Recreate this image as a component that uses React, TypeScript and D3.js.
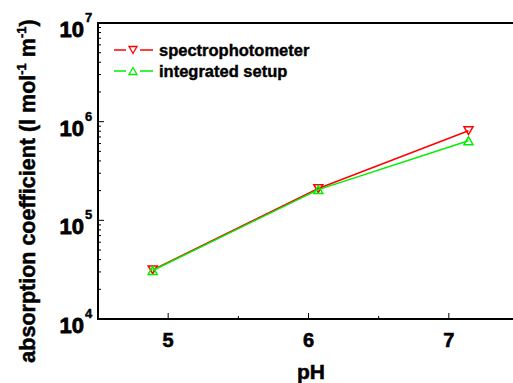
import React, { useRef, useEffect } from 'react';
import * as d3 from 'd3';

const phValues = [4.89, 6.07, 7.14];
const spectrophotometer = [3.15e4, 2.1e5, 8.1e5];
const integratedSetup = [3.1e4, 2.05e5, 6.4e5];
const xTicks = [5, 6, 7];
const yDecades = [4, 5, 6, 7];

const seriesList = [
  { name: 'spectrophotometer', values: spectrophotometer, color: '#ff0000', down: true },
  { name: 'integrated setup', values: integratedSetup, color: '#00ee00', down: false },
];

function App() {
  const ref = useRef<SVGSVGElement>(null);

  useEffect(() => {
    const width = 513;
    const height = 383;
    const margin = { top: 23, right: -6, bottom: 64, left: 98 };

    const svg = d3.select(ref.current);
    svg.selectAll('*').remove();
    svg.attr('width', width).attr('height', height);

    const x = d3.scaleLinear().domain([4.5, 7.5]).range([margin.left, width - margin.right]);
    const y = d3.scaleLog().domain([1e4, 1e7]).range([height - margin.bottom, margin.top]);

    const font = '"Liberation Sans", Arial, sans-serif';
    const x0 = margin.left;
    const x1 = width - margin.right;
    const y0 = height - margin.bottom;
    const y1 = margin.top;

    // bold text with a thin outline to get the heavy look of the original
    const boldText = function(sel: any, size: number, sw?: number) {
      return sel.style('font-family', font).style('font-weight', 'bold').style('font-size', size + 'px')
        .attr('fill', '#000').attr('stroke', '#000').attr('stroke-width', sw === undefined ? 0.4 : sw);
    };

    // frame
    svg.append('rect')
      .attr('x', x0).attr('y', y1)
      .attr('width', x1 - x0).attr('height', y0 - y1)
      .attr('fill', 'none').attr('stroke', '#000').attr('stroke-width', 2);

    // x ticks
    const xMinor = [5.5, 6.5];
    xTicks.forEach(function(t) {
      svg.append('line')
        .attr('x1', x(t)).attr('x2', x(t)).attr('y1', y0).attr('y2', y0 - 6)
        .attr('stroke', '#000').attr('stroke-width', 1);
      boldText(svg.append('text')
        .attr('x', x(t)).attr('y', y0 + 28)
        .attr('text-anchor', 'middle'), 20, 0.6)
        .text(t);
    });
    xMinor.forEach(function(t) {
      svg.append('line')
        .attr('x1', x(t)).attr('x2', x(t)).attr('y1', y0).attr('y2', y0 - 3)
        .attr('stroke', '#000').attr('stroke-width', 1);
    });

    // y ticks
    yDecades.forEach(function(d) {
      const v = Math.pow(10, d);
      svg.append('line')
        .attr('x1', x0).attr('x2', x0 + 6).attr('y1', y(v)).attr('y2', y(v))
        .attr('stroke', '#000').attr('stroke-width', 1);
      boldText(svg.append('text')
        .attr('x', x0 - 14).attr('y', y(v) + 14)
        .attr('text-anchor', 'end'), 22, 0.8)
        .text('10');
      boldText(svg.append('text')
        .attr('x', x0 - 13).attr('y', y(v) - 1)
        .attr('text-anchor', 'start'), 13, 0.4)
        .text(d);
      if (d < 7) {
        for (let m = 2; m <= 9; m++) {
          svg.append('line')
            .attr('x1', x0).attr('x2', x0 + 3).attr('y1', y(m * v)).attr('y2', y(m * v))
            .attr('stroke', '#000').attr('stroke-width', 1);
        }
      }
    });

    const line = d3.line<number>()
      .x(function(d, i) { return x(phValues[i]); })
      .y(function(d) { return y(d); });

    const tri = function(cx: number, cy: number, down: boolean, s: number) {
      const h = s * 0.87;
      if (down) {
        return 'M' + (cx - s / 2) + ',' + (cy - h / 2) + 'L' + (cx + s / 2) + ',' + (cy - h / 2) + 'L' + cx + ',' + (cy + h / 2) + 'Z';
      }
      return 'M' + (cx - s / 2) + ',' + (cy + h / 2) + 'L' + (cx + s / 2) + ',' + (cy + h / 2) + 'L' + cx + ',' + (cy - h / 2) + 'Z';
    };

    seriesList.forEach(function(s) {
      svg.append('path')
        .attr('d', line(s.values))
        .attr('fill', 'none').attr('stroke', s.color).attr('stroke-width', 1.5);
      s.values.forEach(function(v, i) {
        svg.append('path')
          .attr('d', tri(x(phValues[i]), y(v), s.down, 9))
          .attr('fill', 'none').attr('stroke', s.color).attr('stroke-width', 1.5);
      });
    });

    // legend
    seriesList.forEach(function(s, i) {
      const ly = 50 + i * 21;
      svg.append('line').attr('x1', 114).attr('x2', 126).attr('y1', ly).attr('y2', ly)
        .attr('stroke', s.color).attr('stroke-width', 1.5);
      svg.append('line').attr('x1', 140).attr('x2', 153).attr('y1', ly).attr('y2', ly)
        .attr('stroke', s.color).attr('stroke-width', 1.5);
      svg.append('path').attr('d', tri(133, ly, s.down, 8))
        .attr('fill', 'none').attr('stroke', s.color).attr('stroke-width', 1.3);
      boldText(svg.append('text')
        .attr('x', 159).attr('y', ly + 6), 16.5)
        .text(s.name);
    });

    // axis titles
    boldText(svg.append('text')
      .attr('x', 311).attr('y', 379)
      .attr('text-anchor', 'middle'), 21, 0.5)
      .text('pH');

    const yl = boldText(svg.append('text')
      .attr('transform', 'translate(35,' + 191 + ') rotate(-90)')
      .attr('text-anchor', 'middle'), 21.5, 0.5);
    yl.append('tspan').text('absorption coefficient (l mol');
    yl.append('tspan').attr('dy', -9).style('font-size', '13px').text('-1');
    yl.append('tspan').attr('dy', 9).text(' m');
    yl.append('tspan').attr('dy', -9).style('font-size', '13px').text('-1');
    yl.append('tspan').attr('dy', 9).text(')');
  }, []);

  return (
    <svg ref={ref} style={{ position: 'absolute', left: 0, top: 0, background: '#fff' }} />
  );
}

export default App;
